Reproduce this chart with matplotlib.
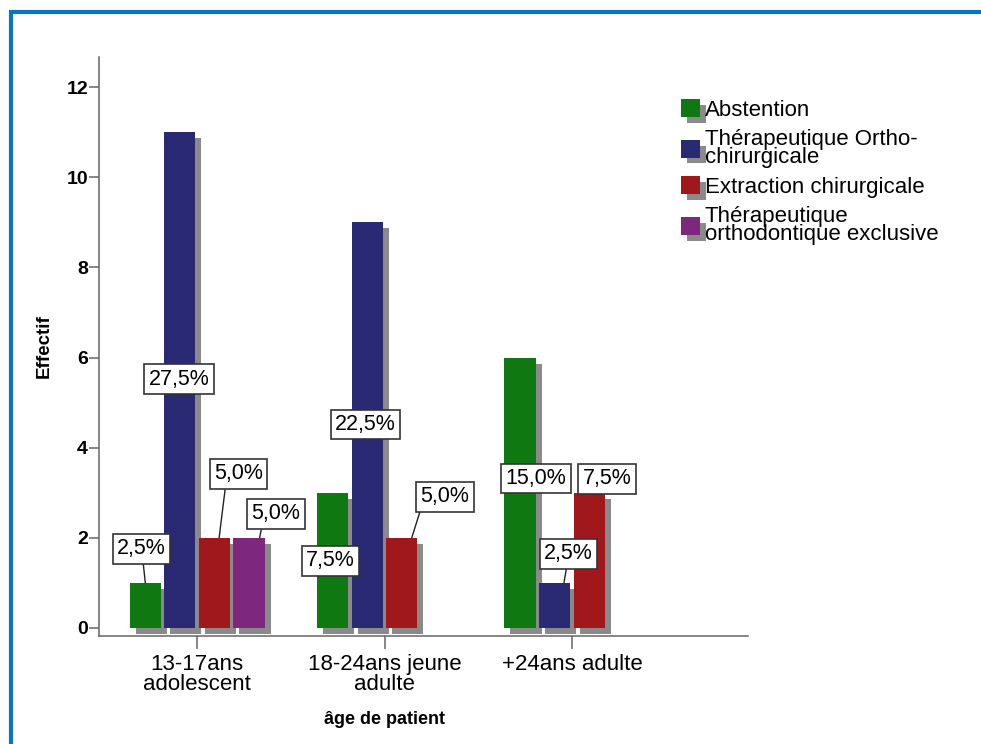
import matplotlib
matplotlib.use('Agg')
import matplotlib.pyplot as plt
import matplotlib.patheffects as pe
from matplotlib.patches import Patch, Rectangle
import numpy as np

plt.rcParams['font.family'] = ['Liberation Sans', 'DejaVu Sans']

# Data
groups = ['13-17ans\nadolescent', '18-24ans jeune\nadulte', '+24ans adulte']
series = ['Abstention', 'Thérapeutique Ortho-\nchirurgicale',
          'Extraction chirurgicale', 'Thérapeutique\northodontique exclusive']
abstention = [1, 3, 6]
ortho_chir = [11, 9, 1]
extraction = [2, 2, 3]
orthodontique = [2, 0, 0]
percent_labels = [
    ['2,5%', '7,5%', '15,0%'],
    ['27,5%', '22,5%', '2,5%'],
    ['5,0%', '5,0%', '7,5%'],
    ['5,0%', None, None],
]
colors = ['#107810', '#292A73', '#A0181C', '#7D287D']

# label offsets from each bar top centre (pixels); leader = (start on box, end on bar as width fraction)
label_offsets = [
    [(-4, 34, (0.53, 0.0)), (-2, -68, None), (16, -121, None)],
    [(-1, -247, None), (-2, -202, None), (14, 29, (0.47, 0.3))],
    [(24, 64, (0.24, 0.15)), (43, 41, (0.02, 0.32)), (18, 14, None)],
    [(27, 24, (0.22, 0.34)), None, None],
]

values = [abstention, ortho_chir, extraction, orthodontique]

fig = plt.figure(figsize=(9.81, 7.44), dpi=100)
ax = fig.add_axes([99 / 981, 1 - 636 / 744, 649 / 981, 579 / 744])
ax.set_xlim(-0.524, 2.94)
ax.set_ylim(-0.18, 12.67)

shadow = [pe.SimplePatchShadow(offset=(4.3, -4.3), shadow_rgbFace='#8a8a8a', alpha=1.0),
          pe.Normal()]

x = np.arange(len(groups))
step = 0.1845
width = 0.166
width_px = ax.transData.transform((width, 0))[0] - ax.transData.transform((0, 0))[0]
for j, vals in enumerate(values):
    pos = x + (j - 1.5) * step
    bars = ax.bar(pos, vals, width=width, color=colors[j], linewidth=0, zorder=2)
    for b, v in zip(bars, vals):
        if v > 0:
            b.set_path_effects(shadow)
        else:
            b.set_visible(False)
    for i, v in enumerate(vals):
        lab = percent_labels[j][i]
        if lab is None:
            continue
        dx, dy, leader = label_offsets[j][i]
        frac = leader[1] if leader else 0
        ax.annotate(lab, xy=(pos[i] + frac * width, v), xytext=(dx - frac * width_px, dy),
                    textcoords='offset pixels',
                    ha='center', va='center', fontsize=15.5, zorder=5,
                    bbox=dict(boxstyle='square,pad=0.2', fc='white', ec='#333333', lw=1.2),
                    arrowprops=dict(arrowstyle='-', color='#222222', lw=1, shrinkA=0, shrinkB=0,
                                    relpos=(leader[0], 0))
                    if leader else None)

ax.set_yticks([0, 2, 4, 6, 8, 10, 12])
ax.set_xticks(x)
ax.set_xticklabels(groups, fontsize=16, linespacing=0.95)
for t in ax.get_yticklabels():
    t.set_fontsize(14)
    t.set_fontweight('bold')

for s in ['top', 'right']:
    ax.spines[s].set_visible(False)
for s in ['left', 'bottom']:
    ax.spines[s].set_color('#666666')
    ax.spines[s].set_linewidth(1.1)
ax.tick_params(axis='y', length=7, width=1.1, color='#666666', pad=1)
ax.tick_params(axis='x', length=9, width=1.1, color='#666666', pad=4)

ax.set_ylabel('Effectif', fontsize=13.5, fontweight='bold')
ax.yaxis.set_label_coords(-0.072, 0.5)
ax.set_xlabel('âge de patient', fontsize=13, fontweight='bold', va='center')
ax.xaxis.set_label_coords(0.44, -0.145)

handles = [Patch(facecolor=c, edgecolor='none', path_effects=shadow) for c in colors]
leg = fig.legend(handles, series, loc='upper left', bbox_to_anchor=(681 / 981, 1 - 99 / 744),
                 frameon=False, fontsize=16, handlelength=0.85, handleheight=0.85,
                 handletextpad=0.22, labelspacing=0.36, borderpad=0, borderaxespad=0)
for t in leg.get_texts():
    t.set_linespacing(0.85)

# blue frame around the chart
fig.patches.append(Rectangle((11 / 981, -0.1), 1.2, 1 - 12 / 744 + 0.1,
                             transform=fig.transFigure, fill=False,
                             ec='#0B74C5', lw=3, zorder=0))

fig.savefig('out.png', dpi=100)
